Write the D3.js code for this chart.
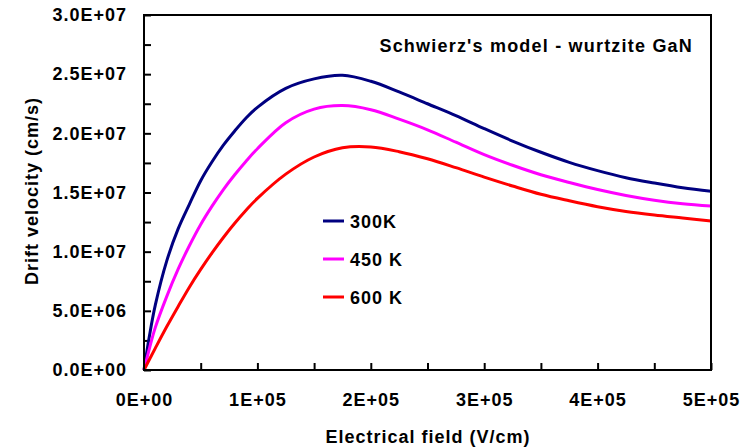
<!DOCTYPE html>
<html>
<head>
<meta charset="utf-8">
<script src="https://cdn.jsdelivr.net/npm/d3@7"></script>
<style>
  body { margin: 0; background: #fff; }
  text { font-family: "Liberation Sans", Arial, sans-serif; font-weight: bold; letter-spacing: 1px; }
</style>
</head>
<body>
<div id="chart"></div>
<script>
// electric field (V/cm)
const field = [0, 5e3, 1e4, 2e4, 3e4, 4e4, 5e4, 6e4, 7e4, 8e4, 9e4, 1e5,
    1.25e5, 1.5e5, 1.75e5, 2e5, 2.25e5, 2.5e5, 2.75e5, 3e5, 3.25e5, 3.5e5, 3.75e5, 4e5, 4.25e5, 4.5e5, 4.75e5, 5e5]
// drift velocity (cm/s)
const v300 = [0, 3.0e6, 5.5e6, 9.2e6, 1.19e7, 1.40e7, 1.60e7, 1.76e7, 1.90e7, 2.02e7, 2.13e7, 2.22e7,
    2.38e7, 2.46e7, 2.49e7, 2.44e7, 2.35e7, 2.25e7, 2.15e7, 2.04e7, 1.935e7, 1.84e7, 1.755e7, 1.685e7, 1.625e7, 1.58e7, 1.54e7, 1.51e7]
const v450 = [0, 1.9e6, 3.6e6, 6.2e6, 8.5e6, 1.05e7, 1.23e7, 1.385e7, 1.525e7, 1.65e7, 1.765e7, 1.87e7,
    2.09e7, 2.205e7, 2.235e7, 2.20e7, 2.12e7, 2.03e7, 1.925e7, 1.82e7, 1.73e7, 1.65e7, 1.585e7, 1.525e7, 1.475e7, 1.435e7, 1.405e7, 1.385e7]
const v600 = [0, 0.93e6, 1.85e6, 3.65e6, 5.35e6, 7.0e6, 8.5e6, 9.9e6, 1.12e7, 1.24e7, 1.35e7, 1.45e7,
    1.655e7, 1.80e7, 1.878e7, 1.885e7, 1.845e7, 1.785e7, 1.71e7, 1.63e7, 1.555e7, 1.485e7, 1.43e7, 1.38e7, 1.34e7, 1.31e7, 1.285e7, 1.26e7]
const seriesNames = ["300K", "450 K", "600 K"]
const seriesColors = ["#000080", "#ff00ff", "#ff0000"]
const xTicks = [0, 1e5, 2e5, 3e5, 4e5, 5e5]
const yTicks = [0, 5e6, 1e7, 1.5e7, 2e7, 2.5e7, 3e7]

const width = 743, height = 447
const plotLeft = 144, plotRight = 711, plotTop = 15, plotBottom = 370

function sci(v, digits) {
    let exp = v === 0 ? 0 : Math.floor(Math.log10(v))
    let man = v / Math.pow(10, exp)
    return man.toFixed(digits) + "E" + (exp < 0 ? "-" : "+") + String(Math.abs(exp)).padStart(2, "0")
}

const svg = d3.select("#chart").append("svg")
    .attr("width", width)
    .attr("height", height)

const xScale = d3.scaleLinear().domain([0, 5e5]).range([plotLeft, plotRight])
const yScale = d3.scaleLinear().domain([0, 3e7]).range([plotBottom, plotTop])

// minor ticks at the half steps
const xAll = d3.range(0, 5e5 + 1, 5e4)
const yAll = d3.range(0, 3e7 + 1, 2.5e6)

const xAxis = d3.axisBottom(xScale)
    .tickValues(xAll)
    .tickSizeInner(-7)
    .tickSizeOuter(0)
    .tickPadding(23)
    .tickFormat(d => xTicks.includes(d) ? sci(d, 0) : "")
const yAxis = d3.axisLeft(yScale)
    .tickValues(yAll)
    .tickSizeInner(-7)
    .tickSizeOuter(0)
    .tickPadding(17)
    .tickFormat(d => yTicks.includes(d) ? sci(d, 1) : "")

svg.append("g")
    .attr("transform", `translate(0,${plotBottom})`)
    .call(xAxis)
svg.append("g")
    .attr("transform", `translate(${plotLeft},0)`)
    .call(yAxis)
svg.selectAll(".tick line").attr("stroke", "#000").attr("stroke-width", 2)
svg.selectAll(".domain").remove()
svg.selectAll(".tick text")
    .attr("fill", "#000")
    .style("font-size", "18px")
    .style("font-family", '"Liberation Sans", Arial, sans-serif')
    .style("font-weight", "bold")

// curves
const allSeries = [v300, v450, v600]
const line = d3.line()
    .x((d, i) => xScale(field[i]))
    .y(d => yScale(d))
    .curve(d3.curveCatmullRom.alpha(0.5))

svg.selectAll(".curve")
    .data(allSeries)
    .enter().append("path")
    .attr("class", "curve")
    .attr("d", d => line(d))
    .attr("fill", "none")
    .attr("stroke", (d, i) => seriesColors[i])
    .attr("stroke-width", 3)

// frame
svg.append("rect")
    .attr("x", plotLeft)
    .attr("y", plotTop)
    .attr("width", plotRight - plotLeft)
    .attr("height", plotBottom - plotTop)
    .attr("fill", "none")
    .attr("stroke", "#000")
    .attr("stroke-width", 2)

// legend
const legend = svg.selectAll(".legend")
    .data(seriesNames)
    .enter().append("g")
    .attr("class", "legend")
    .attr("transform", (d, i) => `translate(323,${221 + i * 38})`)
legend.append("line")
    .attr("x1", 0).attr("x2", 21)
    .attr("stroke", (d, i) => seriesColors[i])
    .attr("stroke-width", 3)
legend.append("text")
    .attr("x", 27)
    .attr("y", 6.5)
    .style("font-size", "18px")
    .text(d => d)

// title
svg.append("text")
    .attr("x", 693)
    .attr("y", 52)
    .attr("text-anchor", "end")
    .style("font-size", "18px")
    .style("letter-spacing", "1.2px")
    .text("Schwierz's model - wurtzite GaN")

// axis titles
svg.append("text")
    .attr("x", 428)
    .attr("y", 443)
    .attr("text-anchor", "middle")
    .style("font-size", "18px")
    .text("Electrical field (V/cm)")
svg.append("text")
    .attr("transform", "translate(38,191) rotate(-90)")
    .attr("text-anchor", "middle")
    .style("font-size", "18px")
    .text("Drift velocity (cm/s)")
</script>
</body>
</html>
